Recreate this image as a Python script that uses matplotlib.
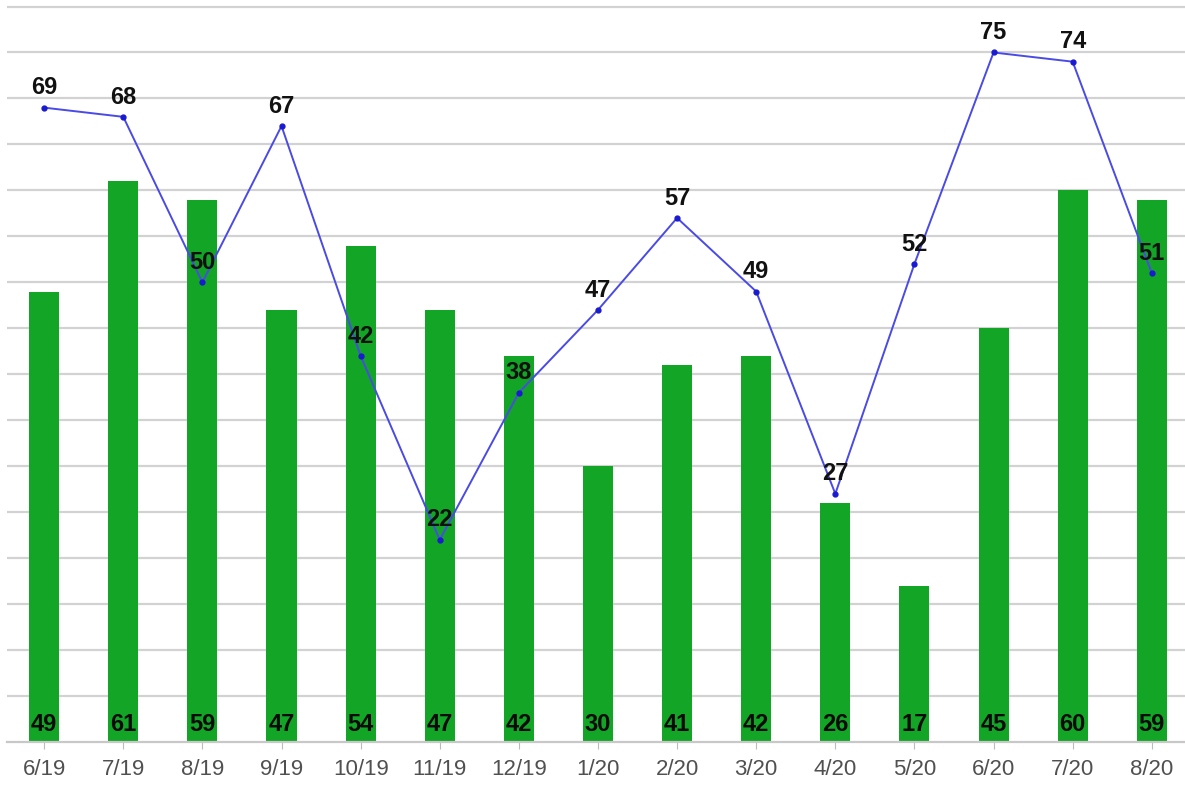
import matplotlib.pyplot as plt

# --- data ---
aylar = ['6/19', '7/19', '8/19', '9/19', '10/19', '11/19', '12/19', '1/20',
         '2/20', '3/20', '4/20', '5/20', '6/20', '7/20', '8/20']
sutun_degerleri = [49, 61, 59, 47, 54, 47, 42, 30, 41, 42, 26, 17, 45, 60, 59]
cizgi_degerleri = [69, 68, 50, 67, 42, 22, 38, 47, 57, 49, 27, 52, 75, 74, 51]

yazi = ['Liberation Sans', 'DejaVu Sans']

fig = plt.figure(figsize=(11.85, 7.92), dpi=100)
ax = fig.add_axes([7 / 1185, 50 / 792, 1 - 7 / 1185, 741 / 792])

x = list(range(len(aylar)))

# yatay izgara
for g in range(5, 85, 5):
    ax.axhline(g, color='#d2d2d2', linewidth=1.6, zorder=0)

ax.bar(x, sutun_degerleri, width=0.38, color='#13a526', zorder=2)

for xi, v in zip(x, sutun_degerleri):
    ax.text(xi, 0.6, str(v), ha='center', va='bottom', fontsize=17,
            fontweight='bold', family=yazi, color='#0a0a0a', zorder=4)

ax.plot(x, cizgi_degerleri, color='#4a4ae6', linewidth=1.4, marker='o',
        markersize=3.5, markerfacecolor='#1a1ad0', markeredgecolor='#1a1ad0', zorder=3)

for xi, v in zip(x, cizgi_degerleri):
    ax.annotate(str(v), (xi, v), xytext=(0, 6), textcoords='offset points',
                ha='center', va='bottom', fontsize=17, fontweight='bold',
                family=yazi, color='#111111', zorder=5)

ax.set_xlim(-0.47, 14.42)
ax.set_ylim(0, 80.6)
ax.set_xticks(x)
ax.set_xticklabels(aylar, fontsize=16, family=yazi, color='#505050')
ax.set_yticks([])
ax.tick_params(axis='x', length=5, color='#bbbbbb', pad=7)

for taraf in ['top', 'right', 'left']:
    ax.spines[taraf].set_visible(False)
ax.spines['bottom'].set_color('#c8c8c8')
ax.spines['bottom'].set_linewidth(1.6)

fig.savefig('out.png', dpi=100)
